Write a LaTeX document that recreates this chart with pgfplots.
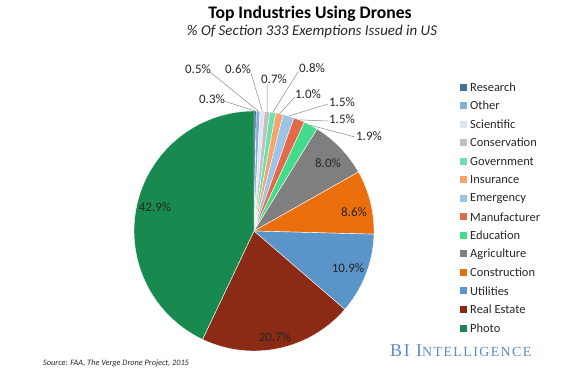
\documentclass[border=0pt]{standalone}
\usepackage{pgfplots}
\pgfplotsset{compat=1.18}
\usepackage{pgfplotstable}
\usepackage{fontspec}
\setmainfont{Carlito}
\newfontfamily\logofont[LetterSpace=10]{Liberation Serif}

\definecolor{pie0}{HTML}{41719C}
\definecolor{pie1}{HTML}{86AEDB}
\definecolor{pie2}{HTML}{DAE6F2}
\definecolor{pie3}{HTML}{C0C0C0}
\definecolor{pie4}{HTML}{6EE0A9}
\definecolor{pie5}{HTML}{F6A46D}
\definecolor{pie6}{HTML}{9DC3E6}
\definecolor{pie7}{HTML}{E3694B}
\definecolor{pie8}{HTML}{44DC8C}
\definecolor{pie9}{HTML}{7F7F7F}
\definecolor{pie10}{HTML}{EB6E0C}
\definecolor{pie11}{HTML}{5B94C8}
\definecolor{pie12}{HTML}{8B2B15}
\definecolor{pie13}{HTML}{198A4F}
\definecolor{leadc}{HTML}{8A8A8A}
\definecolor{txtc}{HTML}{262626}
\definecolor{logoc}{HTML}{5B8CC0}

\pgfplotstableread[col sep=comma]{
name,value
Research,0.3
Other,0.5
Scientific,0.6
Conservation,0.7
Government,0.8
Insurance,1.0
Emergency,1.5
Manufacturer,1.5
Education,1.9
Agriculture,8.0
Construction,8.6
Utilities,10.9
Real Estate,20.7
Photo,42.9
}\piedata

\newcommand\leader[3]{%
  \edef\temp{\noexpand\draw[leadc, line width=0.5pt] (axis cs:\csname mx#1\endcsname,\csname my#1\endcsname) -- (axis cs:#2,#3);}\temp}
\newcommand\plabel[3]{%
  \pgfplotstablegetelem{#1}{value}\of\piedata
  \edef\temp{\noexpand\node[txtc, font=\noexpand\fontsize{13}{15}\noexpand\selectfont] at (axis cs:#2,#3) {\pgfplotsretval\noexpand\%};}\temp}

\begin{document}
\begin{tikzpicture}
% cumulative angles (clockwise from 12 o'clock)
\gdef\pietotal{0}
\foreach \i in {0,...,13}{
  \pgfplotstablegetelem{\i}{value}\of\piedata
  \pgfmathsetmacro\tmp{\pietotal+\pgfplotsretval}
  \xdef\pietotal{\tmp}
}
\gdef\piecum{0}
\foreach \i in {0,...,13}{
  \pgfplotstablegetelem{\i}{value}\of\piedata
  \pgfmathsetmacro\a{90-\piecum/\pietotal*360}
  \pgfmathsetmacro\newcum{\piecum+\pgfplotsretval}
  \pgfmathsetmacro\b{90-\newcum/\pietotal*360}
  \pgfmathsetmacro\m{(\a+\b)/2}
  \pgfmathsetmacro\sx{254+120*cos(\a)}
  \pgfmathsetmacro\sy{145+120*sin(\a)}
  \pgfmathsetmacro\mx{254+120*cos(\m)}
  \pgfmathsetmacro\my{145+120*sin(\m)}
  \expandafter\xdef\csname sa\i\endcsname{\a}
  \expandafter\xdef\csname ea\i\endcsname{\b}
  \expandafter\xdef\csname sx\i\endcsname{\sx}
  \expandafter\xdef\csname sy\i\endcsname{\sy}
  \expandafter\xdef\csname mx\i\endcsname{\mx}
  \expandafter\xdef\csname my\i\endcsname{\my}
  \xdef\piecum{\newcum}
}
\begin{axis}[
  x=1bp, y=1bp, xmin=0, xmax=577, ymin=0, ymax=376,
  hide axis, clip=false, scale only axis,
]
\path (axis cs:0,0) rectangle (axis cs:577,376);
% slices
\pgfplotsinvokeforeach{0,...,13}{
  \edef\temp{\noexpand\fill[pie#1, draw=white, line width=0.4pt] (axis cs:254,145) -- (axis cs:\csname sx#1\endcsname,\csname sy#1\endcsname) arc[start angle=\csname sa#1\endcsname, end angle=\csname ea#1\endcsname, radius=120bp] -- cycle;}\temp
}
% legend
\pgfplotsinvokeforeach{0,...,13}{
  \pgfmathsetmacro\ly{376-(87+18.54*#1)}
  \pgfplotstablegetelem{#1}{name}\of\piedata
  \edef\temp{\noexpand\fill[pie#1] (axis cs:460,\ly-3.5) rectangle (axis cs:467,\ly+3.5);
    \noexpand\node[anchor=west, inner sep=0pt, text=txtc, font=\noexpand\fontsize{12.5}{14}\noexpand\selectfont] at (axis cs:470,\ly) {\pgfplotsretval};}\temp
}
% leader lines
\leader{0}{224}{275}
\leader{1}{210}{304}
\leader{2}{251}{303}
\leader{3}{267}{292}
\leader{4}{298}{304}
\leader{5}{295}{279}
\leader{6}{328}{272}
\leader{7}{328}{255}
\leader{8}{355}{239}
% percentage labels
\plabel{0}{212}{277}
\plabel{1}{198}{307}
\plabel{2}{238}{307}
\plabel{3}{274}{297}
\plabel{4}{312}{308}
\plabel{5}{308}{282}
\plabel{6}{342}{274}
\plabel{7}{342}{257}
\plabel{8}{369}{240}
\plabel{9}{328}{213}
\plabel{10}{354}{164}
\plabel{11}{348}{108}
\plabel{12}{275}{39}
\plabel{13}{155}{169}
% titles
\node[text=black, font=\fontsize{17.7}{20}\selectfont\bfseries] at (axis cs:310,362) {Top Industries Using Drones};
\node[text=txtc, font=\fontsize{15}{17}\selectfont\itshape] at (axis cs:312,344) {\% Of Section 333 Exemptions Issued in US};
\node[anchor=west, inner sep=0pt, text=txtc, font=\fontsize{8.3}{10}\selectfont\itshape] at (axis cs:43,13) {Source: FAA, The Verge Drone Project, 2015};
\node[anchor=west, inner sep=0pt, text=logoc] at (axis cs:390,25) {\logofont\fontsize{18}{19}\selectfont BI I\fontsize{14}{15}\selectfont NTELLIGENCE};
\end{axis}
\end{tikzpicture}
\end{document}
